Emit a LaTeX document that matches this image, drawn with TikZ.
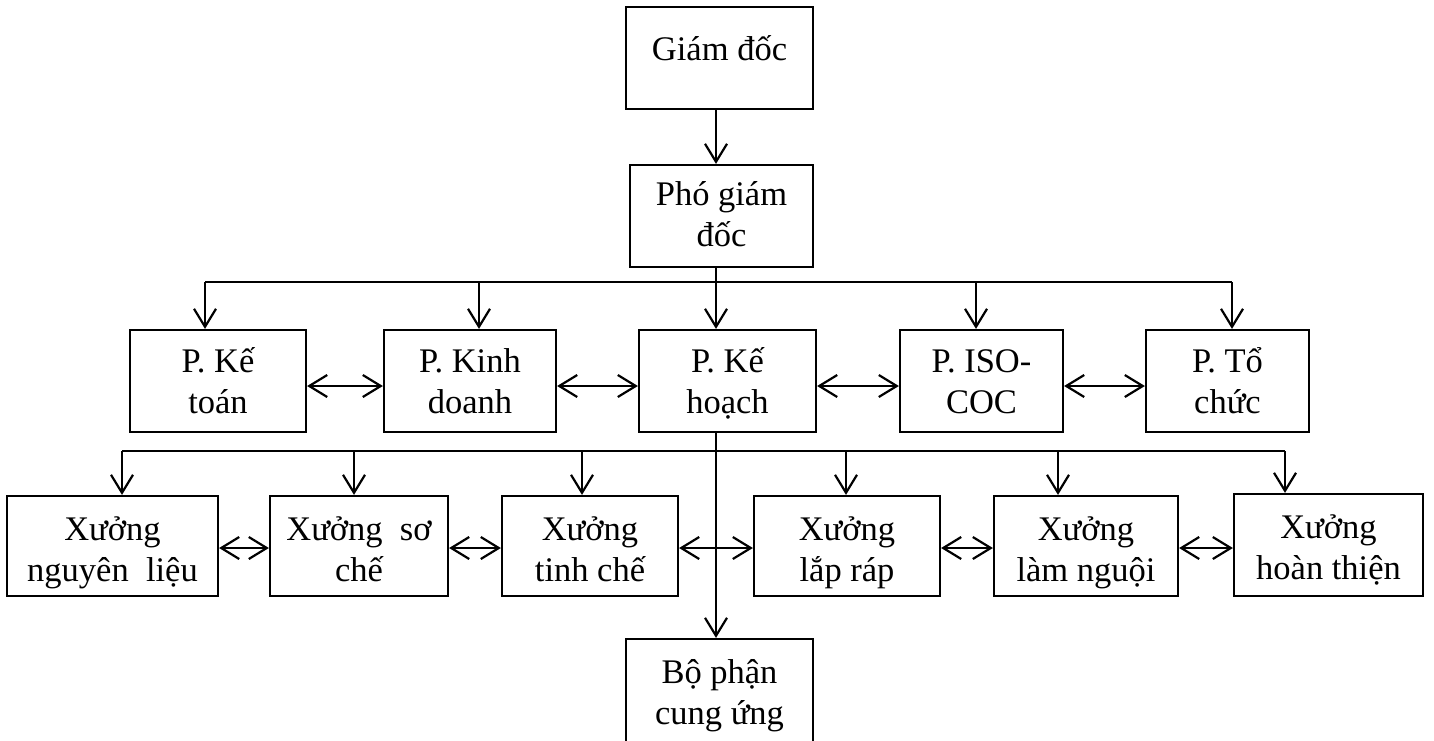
\documentclass[tikz,border=0pt]{standalone}
\usepackage{fontspec}
\setmainfont{Liberation Serif}
\usetikzlibrary{arrows.meta}

% \orgbox{name}{x1}{y1}{x2}{y2}{first baseline below top}{text}
% coordinates are in pixels (x right, y down); text is top aligned
\newcommand\orgbox[7]{%
  \node[orgnode] (#1) at ({(#2+#4)/2},{(#3+#5)/2})
    {\parbox[c][\dimexpr 0.5pt*(#5-#3)\relax][t]{\dimexpr 0.5pt*(#4-#2)\relax}%
      {\centering\rule{0pt}{\dimexpr 0.5pt*#6\relax}#7\par}};}

\begin{document}
\begin{tikzpicture}[x=0.5pt,y=-0.5pt,
  orgnode/.style={draw, line width=1.1pt, inner sep=0pt,
    font=\fontsize{17.25pt}{20.5pt}\selectfont},
  link/.style={line width=1.1pt},
  >={Straight Barb[length=9pt,width=11pt]}]

\useasboundingbox (0,0) rectangle (1434,740);

% management
\orgbox{gd}{626}{7}{813}{109}{53}{Giám đốc}
\orgbox{pgd}{630}{165}{813}{267}{40}{Phó giám\\ đốc}

% departments
\orgbox{kt}{130}{330}{306}{432}{42}{P. Kế\\ toán}
\orgbox{kd}{384}{330}{556}{432}{42}{P. Kinh\\ doanh}
\orgbox{kh}{639}{330}{816}{432}{42}{P. Kế\\ hoạch}
\orgbox{iso}{900}{330}{1063}{432}{42}{P. ISO-\\ COC}
\orgbox{tcc}{1146}{330}{1309}{432}{42}{P. Tổ\\ chức}

% workshops
\orgbox{nl}{7}{496}{218}{596}{44}{Xưởng\\ nguyên\ \ liệu}
\orgbox{sc}{270}{496}{448}{596}{44}{Xưởng\ \ sơ\\ chế}
\orgbox{tch}{502}{496}{678}{596}{44}{Xưởng\\ tinh chế}
\orgbox{lr}{754}{496}{940}{596}{44}{Xưởng\\ lắp ráp}
\orgbox{ln}{994}{496}{1178}{596}{44}{Xưởng\\ làm nguội}
\orgbox{ht}{1234}{494}{1423}{596}{44}{Xưởng\\ hoàn thiện}

% supply unit (runs off the bottom edge)
\orgbox{bp}{626}{639}{813}{790}{44}{Bộ phận\\ cung ứng}

% trunk and bus coordinates
\coordinate (trunk) at (716,0);
\coordinate (ba) at (205,282);
\coordinate (bb) at (479,282);
\coordinate (bd) at (976,282);
\coordinate (be) at (1232,282);
\coordinate (wa) at (122,451);
\coordinate (wb) at (354,451);
\coordinate (wc) at (582,451);
\coordinate (wd) at (846,451);
\coordinate (we) at (1058,451);
\coordinate (wf) at (1285,451);

% vertical trunk
\draw[link,->] (gd.south -| trunk) -- (pgd.north -| trunk);
\draw[link,->] (pgd.south -| trunk) -- (kh.north -| trunk);
\draw[link,->] (kh.south -| trunk) -- (bp.north -| trunk);

% department bus
\draw[link] (ba) -- (be);
\draw[link,->] (ba) -- (ba |- kt.north);
\draw[link,->] (bb) -- (bb |- kd.north);
\draw[link,->] (bd) -- (bd |- iso.north);
\draw[link,->] (be) -- (be |- tcc.north);

% workshop bus
\draw[link] (wa) -- (wf);
\draw[link,->] (wa) -- (wa |- nl.north);
\draw[link,->] (wb) -- (wb |- sc.north);
\draw[link,->] (wc) -- (wc |- tch.north);
\draw[link,->] (wd) -- (wd |- lr.north);
\draw[link,->] (we) -- (we |- ln.north);
\draw[link,->] (wf) -- (wf |- ht.north);

% links between departments
\draw[link,<->] ([yshift=-2.5pt]kt.east) -- ([yshift=-2.5pt]kd.west);
\draw[link,<->] ([yshift=-2.5pt]kd.east) -- ([yshift=-2.5pt]kh.west);
\draw[link,<->] ([yshift=-2.5pt]kh.east) -- ([yshift=-2.5pt]iso.west);
\draw[link,<->] ([yshift=-2.5pt]iso.east) -- ([yshift=-2.5pt]tcc.west);

% links between workshops
\draw[link,<->] ([yshift=-1pt]nl.east) -- ([yshift=-1pt]sc.west);
\draw[link,<->] ([yshift=-1pt]sc.east) -- ([yshift=-1pt]tch.west);
\draw[link,<->] ([yshift=-1pt]tch.east) -- ([yshift=-1pt]lr.west);
\draw[link,<->] ([yshift=-1pt]lr.east) -- ([yshift=-1pt]ln.west);
\draw[link,<->] ([yshift=-1pt]ln.east) -- ([yshift=-1pt]ln.east -| ht.west);

\end{tikzpicture}
\end{document}
